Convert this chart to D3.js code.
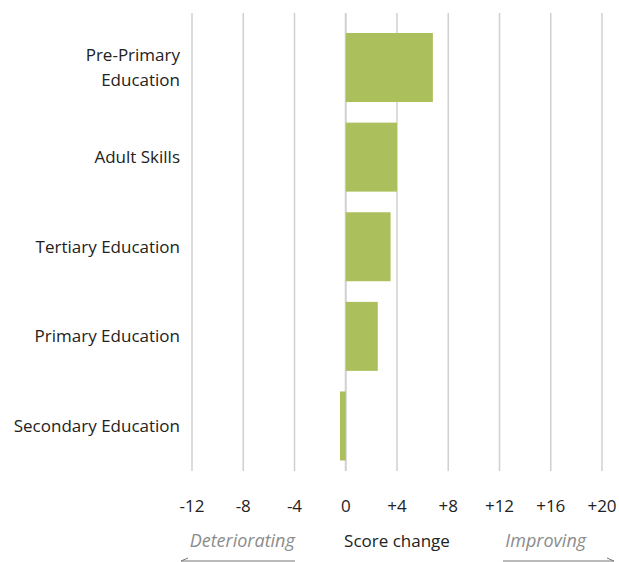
<!DOCTYPE html>
<html><head><meta charset="utf-8">
<script src="https://cdn.jsdelivr.net/npm/d3@7"></script>
<style>body{margin:0;background:#fff;} text{font-family:"Open Sans",sans-serif;}</style>
</head><body>
<svg id="c" width="619" height="562"></svg>
<script>
const categories = [["Pre-Primary","Education"],["Adult Skills"],["Tertiary Education"],["Primary Education"],["Secondary Education"]];
const values = [6.8, 4.0, 3.5, 2.5, -0.45];
const tickValues = [-12,-8,-4,0,4,8,12,16,20];
const tickLabels = ["-12","-8","-4","0","+4","+8","+12","+16","+20"];

const svg = d3.select("#c");
const x = d3.scaleLinear().domain([-12,20]).range([192,602]);
const keys = categories.map(c=>c.join(" "));
const y = d3.scaleBand().domain(keys).range([22.7,470.8]).paddingInner(0.23).paddingOuter(0.115);

// gridlines
svg.append("g").selectAll("line").data(tickValues).join("line")
  .attr("x1",d=>x(d)).attr("x2",d=>x(d)).attr("y1",13).attr("y2",471)
  .attr("stroke","#d0d0d0").attr("stroke-width",d=>d===0?2:1.5);

// bars
svg.append("g").selectAll("rect").data(values).join("rect")
  .attr("x",(d)=>x(Math.min(0,d)))
  .attr("width",d=>Math.abs(x(d)-x(0)))
  .attr("y",(d,i)=>y(keys[i]))
  .attr("height",y.bandwidth())
  .attr("fill","#abc05c");

// category labels
const lab = svg.append("g").selectAll("text").data(categories).join("text")
  .attr("x",180).attr("text-anchor","end").attr("font-size",17).attr("fill","#222")
  .attr("y",(d,i)=>y(keys[i])+y.bandwidth()/2);
lab.each(function(d){
  const t=d3.select(this); const n=d.length;
  d.forEach((s,j)=>{
    t.append("tspan").attr("x",180).attr("dy", j===0 ? ((-(n-1)/2)*1.42+0.35)+"em" : "1.42em").text(s);
  });
});

// tick labels
svg.append("g").selectAll("text").data(tickValues).join("text")
  .attr("x",d=>x(d)).attr("y",512).attr("text-anchor","middle")
  .attr("font-size",17).attr("fill","#222").text((d,i)=>tickLabels[i]);

svg.append("text").attr("x",x(4)).attr("y",547).attr("text-anchor","middle")
  .attr("font-size",17).attr("fill","#222").text("Score change");
svg.append("text").attr("x",x(-8)-1).attr("y",547).attr("text-anchor","middle")
  .attr("font-size",18).attr("font-style","italic").attr("fill","#8c8c8c").text("Deteriorating");
svg.append("text").attr("x",x(16)-5).attr("y",547).attr("text-anchor","middle")
  .attr("font-size",18).attr("font-style","italic").attr("fill","#8c8c8c").text("Improving");

// arrows
svg.append("line").attr("x1",181).attr("x2",295).attr("y1",561).attr("y2",561).attr("stroke","#777").attr("stroke-width",1);
svg.append("path").attr("d","M181,561 l7,-3").attr("stroke","#777").attr("fill","none");
svg.append("line").attr("x1",503).attr("x2",614).attr("y1",561).attr("y2",561).attr("stroke","#777").attr("stroke-width",1);
svg.append("path").attr("d","M614,561 l-7,-3").attr("stroke","#777").attr("fill","none");
</script>
</body></html>
